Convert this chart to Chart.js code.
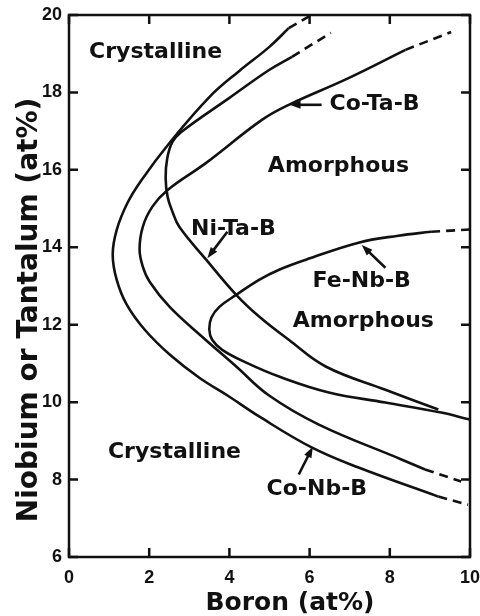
<!DOCTYPE html>
<html>
<head>
<meta charset="utf-8">
<script src="https://cdn.jsdelivr.net/npm/chart.js@4.4.1/dist/chart.umd.min.js"></script>
<style>
  html, body { margin: 0; padding: 0; background: #fff; }
  #wrap { width: 480px; height: 616px; position: relative; }
</style>
</head>
<body>
<div id="wrap"><canvas id="chart"></canvas></div>
<script>
// Boron (at%) vs Nb/Ta (at%) - glass forming boundaries
const xTicks = [0, 2, 4, 6, 8, 10];
const yTicks = [6, 8, 10, 12, 14, 16, 18, 20];

// solid parts of the boundaries [boron, Nb/Ta]
const coNbB = [[5.48,19.66],[4.99,19.17],[4.24,18.55],[3.50,17.88],[2.51,16.70],[1.81,15.74],[1.46,15.15],[1.19,14.45],[1.09,13.81],[1.19,13.16],[1.44,12.52],[1.89,11.87],[2.51,11.23],[3.25,10.63],[4.00,10.14],[4.74,9.63],[6.05,8.83],[7.22,8.31],[9.21,7.56]];
const coTaB = [[8.39,19.10],[6.97,18.37],[5.48,17.68],[4.81,17.29],[3.42,16.18],[2.46,15.48],[2.08,15.05],[1.84,14.53],[1.76,13.94],[1.84,13.50],[2.01,13.11],[2.51,12.46],[3.32,11.69],[4.17,10.92],[4.99,10.17],[6.23,9.42],[8.29,8.52],[8.88,8.26]];
const niTaB = [[5.56,18.92],[4.99,18.58],[4.00,17.86],[2.80,16.98],[2.58,16.72],[2.45,16.30],[2.41,15.79],[2.46,15.30],[2.58,14.92],[2.75,14.53],[3.42,13.68],[4.17,12.77],[4.74,12.21],[5.48,11.61],[6.40,10.92],[7.89,10.32],[9.21,9.81]];
const feNbB = [[9.03,14.40],[8.21,14.30],[7.22,14.12],[5.91,13.68],[5.24,13.42],[4.74,13.16],[4.17,12.77],[3.75,12.46],[3.55,12.18],[3.50,11.87],[3.57,11.61],[3.82,11.35],[4.42,11.02],[5.24,10.66],[6.48,10.25],[7.89,9.99],[9.28,9.73],[10.0,9.55]];

// dashed (extrapolated) ends
const dashedEnds = [
  [[5.48,19.66],[6.05,20.0]],
  [[9.21,7.56],[9.95,7.35]],
  [[8.39,19.10],[9.53,19.56]],
  [[8.88,8.26],[9.78,7.95]],
  [[5.56,18.92],[6.53,19.54]],
  [[9.03,14.40],[10.0,14.46]]
];

// region / curve labels: [text, x, y(baseline)]
const labels = [
  ['Crystalline', 2.16, 18.89],
  ['Co-Ta-B', 7.62, 17.55],
  ['Amorphous', 6.72, 15.95],
  ['Ni-Ta-B', 4.1, 14.32],
  ['Fe-Nb-B', 7.30, 12.98],
  ['Amorphous', 7.34, 11.95],
  ['Crystalline', 2.63, 8.57],
  ['Co-Nb-B', 6.18, 7.61]
];

// arrows: [tailX, tailY, headX, headY]
const arrows = [
  [6.30, 17.68, 5.50, 17.68],
  [3.95, 14.40, 3.45, 13.72],
  [7.89, 13.47, 7.30, 14.06],
  [5.73, 8.13, 6.08, 8.85]
];

const FONT = "'DejaVu Sans', 'Liberation Sans', sans-serif";
const TICK_FONT = "'Liberation Sans', Arial, sans-serif";
const INK = '#111';

function toPts(arr) {
  return arr.map(p => ({ x: p[0], y: p[1] }));
}

const datasets = [coNbB, coTaB, niTaB, feNbB].map(c => ({
  data: toPts(c),
  showLine: true,
  borderColor: INK,
  borderWidth: 2.6,
  pointRadius: 0,
  tension: 0.4,
  fill: false
}));
dashedEnds.forEach(d => {
  datasets.push({
    data: toPts(d),
    showLine: true,
    borderColor: INK,
    borderWidth: 2.6,
    borderDash: [9, 6],
    pointRadius: 0,
    tension: 0,
    fill: false
  });
});

// frame, inward ticks, arrows, texts
const decor = {
  id: 'decor',
  afterDraw(chart) {
    const ctx = chart.ctx;
    const xs = chart.scales.x, ys = chart.scales.y;
    const a = chart.chartArea;
    const tl = 9;
    ctx.save();
    ctx.strokeStyle = INK;
    ctx.lineWidth = 2.5;
    ctx.strokeRect(a.left, a.top, a.right - a.left, a.bottom - a.top);
    ctx.beginPath();
    xTicks.forEach(v => {
      const px = xs.getPixelForValue(v);
      ctx.moveTo(px, a.bottom); ctx.lineTo(px, a.bottom - tl);
      ctx.moveTo(px, a.top); ctx.lineTo(px, a.top + tl);
    });
    yTicks.forEach(v => {
      const py = ys.getPixelForValue(v);
      ctx.moveTo(a.left, py); ctx.lineTo(a.left + tl, py);
      ctx.moveTo(a.right, py); ctx.lineTo(a.right - tl, py);
    });
    ctx.stroke();

    // arrows
    ctx.fillStyle = INK;
    ctx.lineWidth = 2.6;
    arrows.forEach(r => {
      const x1 = xs.getPixelForValue(r[0]), y1 = ys.getPixelForValue(r[1]);
      const x2 = xs.getPixelForValue(r[2]), y2 = ys.getPixelForValue(r[3]);
      const ang = Math.atan2(y2 - y1, x2 - x1);
      const hl = 11, hw = 4;
      ctx.beginPath();
      ctx.moveTo(x1, y1);
      ctx.lineTo(x2 - Math.cos(ang) * hl * 0.8, y2 - Math.sin(ang) * hl * 0.8);
      ctx.stroke();
      ctx.beginPath();
      ctx.moveTo(x2, y2);
      ctx.lineTo(x2 - Math.cos(ang) * hl - Math.sin(ang) * hw, y2 - Math.sin(ang) * hl + Math.cos(ang) * hw);
      ctx.lineTo(x2 - Math.cos(ang) * hl + Math.sin(ang) * hw, y2 - Math.sin(ang) * hl - Math.cos(ang) * hw);
      ctx.closePath();
      ctx.fill();
    });

    // labels inside plot
    ctx.font = 'bold 22px ' + FONT;
    ctx.textAlign = 'center';
    ctx.textBaseline = 'alphabetic';
    labels.forEach(l => {
      ctx.fillText(l[0], xs.getPixelForValue(l[1]), ys.getPixelForValue(l[2]));
    });

    // axis titles
    ctx.font = 'bold 25px ' + FONT;
    ctx.fillText('Boron (at%)', 290, 610);
    ctx.translate(37, 310);
    ctx.rotate(-Math.PI / 2);
    ctx.font = 'bold 28px ' + FONT;
    ctx.fillText('Niobium or Tantalum (at%)', 0, 0);
    ctx.restore();
  }
};

new Chart(document.getElementById('chart'), {
  type: 'scatter',
  data: { datasets: datasets },
  options: {
    responsive: true,
    maintainAspectRatio: false,
    animation: false,
    layout: { padding: { top: 15, right: 10, left: 0, bottom: 0 } },
    plugins: { legend: { display: false }, tooltip: { enabled: false } },
    scales: {
      x: {
        type: 'linear', min: 0, max: 10,
        afterBuildTicks: s => { s.ticks = xTicks.map(v => ({ value: v })); },
        ticks: { color: INK, padding: 10, maxRotation: 0, font: { family: TICK_FONT, size: 18, weight: 'bold' } },
        grid: { display: false, drawTicks: false },
        border: { display: false },
        afterFit: s => { s.height = 59; s.paddingLeft = 0; s.paddingRight = 0; }
      },
      y: {
        type: 'linear', min: 6, max: 20,
        afterBuildTicks: s => { s.ticks = yTicks.map(v => ({ value: v })); },
        ticks: { color: INK, padding: 7, font: { family: TICK_FONT, size: 18, weight: 'bold' } },
        grid: { display: false, drawTicks: false },
        border: { display: false },
        afterFit: s => { s.width = 69; s.paddingTop = 0; s.paddingBottom = 0; }
      }
    }
  },
  plugins: [decor]
});
</script>
</body>
</html>
